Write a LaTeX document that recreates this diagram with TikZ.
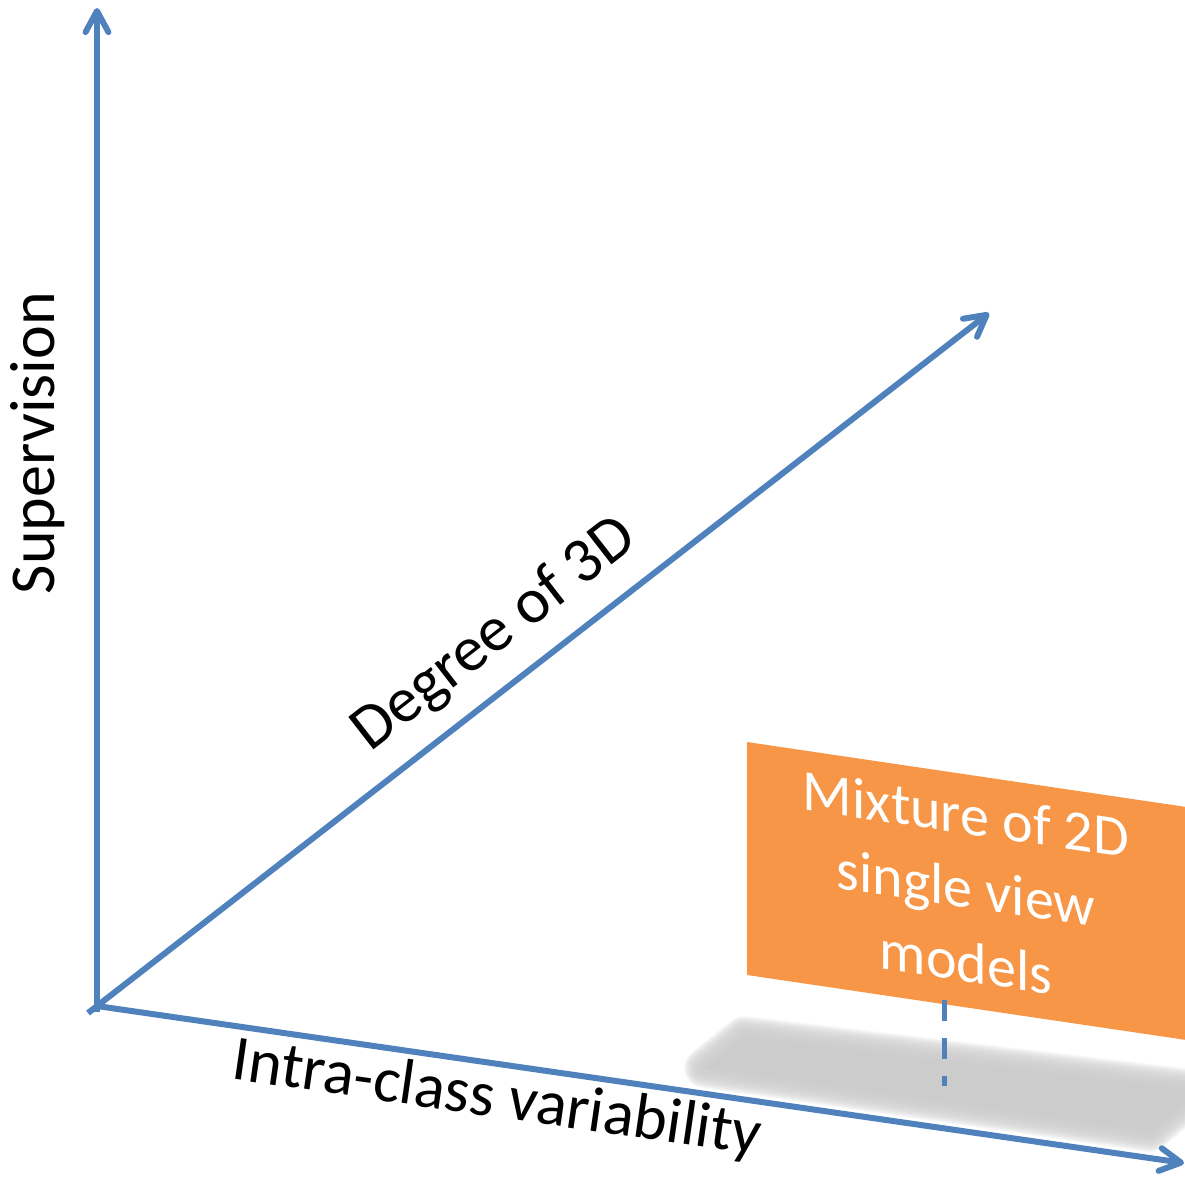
\documentclass[tikz,border=0pt]{standalone}
\usepackage{fontspec}
\setmainfont{Carlito}
\usetikzlibrary{arrows.meta}
\definecolor{axisblue}{HTML}{4F81BD}
\definecolor{boxorange}{HTML}{F79646}

\begin{document}
\begin{tikzpicture}[x=0.01cm, y=-0.01cm,
  axis/.style={draw=axisblue, line width=0.06cm, -{Straight Barb[length=6pt, width=6.5pt, round, line width=1.7pt]}},
  lbl/.style={font=\fontsize{18.2}{22}\selectfont, inner sep=0pt}]
  \useasboundingbox (0,0) rectangle (1185,1178);

  % Soft shadow below the box
  \foreach \w in {2,4,...,40}
    \draw[black!20, opacity=0.14, line width=\w*0.2845pt, line join=round]
      (704,1068) -- (744,1036) -- (1200,1090) -- (1150,1132) -- cycle;
  \fill[black!20] (704,1068) -- (744,1036) -- (1200,1090) -- (1150,1132) -- cycle;

  % Axes
  \coordinate (origin) at (97,1006);
  \coordinate (ybase) at (97,1012);
  \coordinate (dbase) at (88,1013);
  \coordinate (ytip) at (97,8);
  \coordinate (dtip) at (989,313);
  \coordinate (xtip) at (1184,1163);
  \draw[axis] (ybase) -- (ytip);
  \draw[axis] (dbase) -- (dtip);
  \draw[axis] (origin) -- (xtip);

  % Axis labels
  \node[lbl, rotate=90] (suplbl) at (38,443) {Supervision};
  \node[lbl, rotate=37.8] (deglbl) at (495,635) {Degree of 3D};
  \node[lbl, rotate=-8.2] (intralbl) at (497,1100) {Intra-class variability};

  % Orange box
  \fill[boxorange] (747,742) -- (1200,809) -- (1200,1042) -- (747,975) -- cycle;
  \node[lbl, text=white, align=center, yslant=-0.148, font=\fontsize{16.5}{21}\selectfont]
    (boxtext) at (966,888) {Mixture of 2D\\single view\\models};

  % Dashed drop line
  \coordinate (boxfoot) at (944,1000);
  \coordinate (shadowpt) at (944,1086);
  \draw[axisblue, line width=0.05cm, dash pattern=on 0.21cm off 0.17cm] (boxfoot) -- (shadowpt);
\end{tikzpicture}
\end{document}
